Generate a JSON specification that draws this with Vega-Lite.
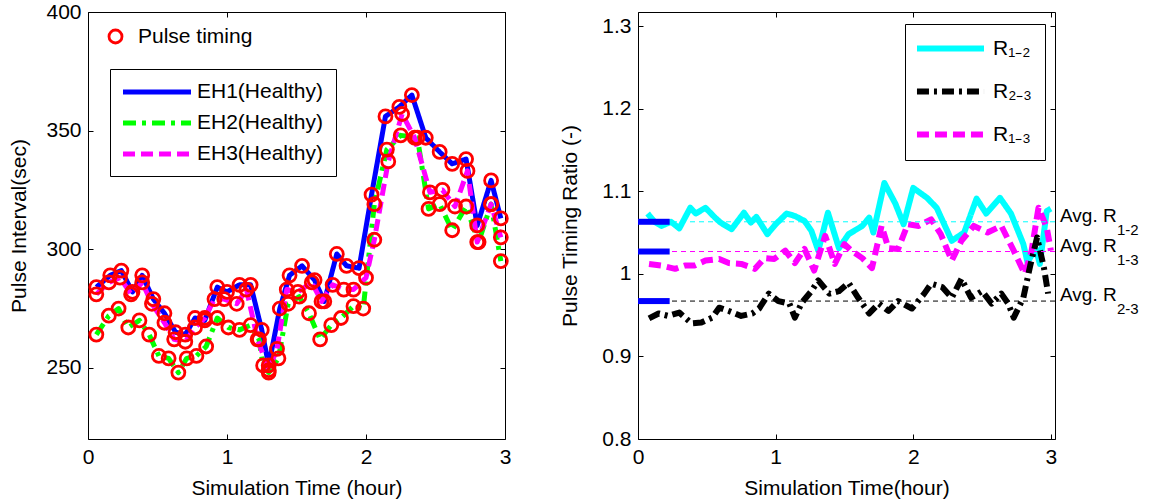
{
  "$schema": "https://vega.github.io/schema/vega-lite/v6.json",
  "background": "white",
  "padding": {"left": 8, "top": 0, "right": 2, "bottom": 0},
  "bounds": "flush",
  "spacing": 133,
  "resolve": {
    "scale": {"color": "independent", "strokeDash": "independent", "shape": "independent"},
    "legend": {"color": "independent", "strokeDash": "independent", "shape": "independent"}
  },
  "config": {
    "font": "Liberation Sans",
    "view": {"stroke": "black", "strokeWidth": 1},
    "axis": {"grid": false, "domain": false, "tickColor": "black", "tickSize": -5, "tickWidth": 1, "labelFontSize": 21, "titleFontSize": 21, "titleFontWeight": "normal", "labelColor": "black", "titleColor": "black", "labelPadding": 12, "labelFlush": false, "labelOverlap": false},
    "legend": {"labelFontSize": 21, "labelColor": "black", "labelFont": "Liberation Sans"}
  },
  "datasets": {
    "pulse": [
      {"s":"EH1(Healthy)","t":0.06,"v":284},{"s":"EH1(Healthy)","t":0.16,"v":289},{"s":"EH1(Healthy)","t":0.24,"v":291},{"s":"EH1(Healthy)","t":0.32,"v":282},{"s":"EH1(Healthy)","t":0.39,"v":289},{"s":"EH1(Healthy)","t":0.47,"v":279},{"s":"EH1(Healthy)","t":0.55,"v":273},{"s":"EH1(Healthy)","t":0.63,"v":265},{"s":"EH1(Healthy)","t":0.70,"v":264},{"s":"EH1(Healthy)","t":0.77,"v":271},{"s":"EH1(Healthy)","t":0.84,"v":270},{"s":"EH1(Healthy)","t":0.93,"v":284},{"s":"EH1(Healthy)","t":1.00,"v":282},{"s":"EH1(Healthy)","t":1.09,"v":285},{"s":"EH1(Healthy)","t":1.17,"v":285},{"s":"EH1(Healthy)","t":1.25,"v":266},{"s":"EH1(Healthy)","t":1.30,"v":251},{"s":"EH1(Healthy)","t":1.38,"v":275},{"s":"EH1(Healthy)","t":1.45,"v":289},{"s":"EH1(Healthy)","t":1.54,"v":293},{"s":"EH1(Healthy)","t":1.63,"v":287},{"s":"EH1(Healthy)","t":1.70,"v":278},{"s":"EH1(Healthy)","t":1.79,"v":298},{"s":"EH1(Healthy)","t":1.86,"v":293},{"s":"EH1(Healthy)","t":1.95,"v":292},{"s":"EH1(Healthy)","t":2.04,"v":323},{"s":"EH1(Healthy)","t":2.14,"v":356},{"s":"EH1(Healthy)","t":2.24,"v":360},{"s":"EH1(Healthy)","t":2.33,"v":365},{"s":"EH1(Healthy)","t":2.43,"v":347},{"s":"EH1(Healthy)","t":2.53,"v":341},{"s":"EH1(Healthy)","t":2.62,"v":336},{"s":"EH1(Healthy)","t":2.72,"v":338},{"s":"EH1(Healthy)","t":2.80,"v":310},{"s":"EH1(Healthy)","t":2.90,"v":329},{"s":"EH1(Healthy)","t":2.97,"v":313},
      {"s":"EH2(Healthy)","t":0.06,"v":264},{"s":"EH2(Healthy)","t":0.15,"v":272},{"s":"EH2(Healthy)","t":0.22,"v":275},{"s":"EH2(Healthy)","t":0.29,"v":267},{"s":"EH2(Healthy)","t":0.37,"v":270},{"s":"EH2(Healthy)","t":0.44,"v":264},{"s":"EH2(Healthy)","t":0.51,"v":255},{"s":"EH2(Healthy)","t":0.58,"v":254},{"s":"EH2(Healthy)","t":0.65,"v":248},{"s":"EH2(Healthy)","t":0.71,"v":254},{"s":"EH2(Healthy)","t":0.78,"v":255},{"s":"EH2(Healthy)","t":0.85,"v":259},{"s":"EH2(Healthy)","t":0.93,"v":271},{"s":"EH2(Healthy)","t":1.01,"v":267},{"s":"EH2(Healthy)","t":1.09,"v":266},{"s":"EH2(Healthy)","t":1.17,"v":268},{"s":"EH2(Healthy)","t":1.23,"v":262},{"s":"EH2(Healthy)","t":1.26,"v":251},{"s":"EH2(Healthy)","t":1.30,"v":248},{"s":"EH2(Healthy)","t":1.37,"v":254},{"s":"EH2(Healthy)","t":1.44,"v":277},{"s":"EH2(Healthy)","t":1.52,"v":280},{"s":"EH2(Healthy)","t":1.59,"v":273},{"s":"EH2(Healthy)","t":1.67,"v":262},{"s":"EH2(Healthy)","t":1.75,"v":268},{"s":"EH2(Healthy)","t":1.82,"v":271},{"s":"EH2(Healthy)","t":1.91,"v":276},{"s":"EH2(Healthy)","t":1.98,"v":275},{"s":"EH2(Healthy)","t":2.06,"v":319},{"s":"EH2(Healthy)","t":2.15,"v":342},{"s":"EH2(Healthy)","t":2.25,"v":348},{"s":"EH2(Healthy)","t":2.37,"v":347},{"s":"EH2(Healthy)","t":2.45,"v":317},{"s":"EH2(Healthy)","t":2.53,"v":319},{"s":"EH2(Healthy)","t":2.62,"v":308},{"s":"EH2(Healthy)","t":2.72,"v":318},{"s":"EH2(Healthy)","t":2.81,"v":303},{"s":"EH2(Healthy)","t":2.90,"v":319},{"s":"EH2(Healthy)","t":2.97,"v":295},
      {"s":"EH3(Healthy)","t":0.06,"v":281},{"s":"EH3(Healthy)","t":0.15,"v":286},{"s":"EH3(Healthy)","t":0.23,"v":288},{"s":"EH3(Healthy)","t":0.31,"v":281},{"s":"EH3(Healthy)","t":0.39,"v":286},{"s":"EH3(Healthy)","t":0.46,"v":277},{"s":"EH3(Healthy)","t":0.55,"v":269},{"s":"EH3(Healthy)","t":0.62,"v":262},{"s":"EH3(Healthy)","t":0.70,"v":261},{"s":"EH3(Healthy)","t":0.77,"v":267},{"s":"EH3(Healthy)","t":0.84,"v":271},{"s":"EH3(Healthy)","t":0.91,"v":279},{"s":"EH3(Healthy)","t":0.98,"v":279},{"s":"EH3(Healthy)","t":1.07,"v":277},{"s":"EH3(Healthy)","t":1.14,"v":283},{"s":"EH3(Healthy)","t":1.22,"v":262},{"s":"EH3(Healthy)","t":1.30,"v":249},{"s":"EH3(Healthy)","t":1.36,"v":258},{"s":"EH3(Healthy)","t":1.43,"v":283},{"s":"EH3(Healthy)","t":1.51,"v":282},{"s":"EH3(Healthy)","t":1.61,"v":286},{"s":"EH3(Healthy)","t":1.68,"v":278},{"s":"EH3(Healthy)","t":1.76,"v":285},{"s":"EH3(Healthy)","t":1.84,"v":283},{"s":"EH3(Healthy)","t":1.91,"v":283},{"s":"EH3(Healthy)","t":2.00,"v":288},{"s":"EH3(Healthy)","t":2.06,"v":304},{"s":"EH3(Healthy)","t":2.16,"v":337},{"s":"EH3(Healthy)","t":2.26,"v":357},{"s":"EH3(Healthy)","t":2.35,"v":347},{"s":"EH3(Healthy)","t":2.46,"v":324},{"s":"EH3(Healthy)","t":2.55,"v":325},{"s":"EH3(Healthy)","t":2.64,"v":318},{"s":"EH3(Healthy)","t":2.73,"v":333},{"s":"EH3(Healthy)","t":2.80,"v":303},{"s":"EH3(Healthy)","t":2.90,"v":319},{"s":"EH3(Healthy)","t":2.97,"v":305}
    ],
    "ratio": [
      {"s":"R1-2","t":0.07,"r":1.073},{"s":"R1-2","t":0.12,"r":1.063},{"s":"R1-2","t":0.17,"r":1.058},{"s":"R1-2","t":0.24,"r":1.063},{"s":"R1-2","t":0.30,"r":1.055},{"s":"R1-2","t":0.38,"r":1.080},{"s":"R1-2","t":0.42,"r":1.073},{"s":"R1-2","t":0.49,"r":1.080},{"s":"R1-2","t":0.56,"r":1.068},{"s":"R1-2","t":0.60,"r":1.062},{"s":"R1-2","t":0.68,"r":1.054},{"s":"R1-2","t":0.77,"r":1.074},{"s":"R1-2","t":0.82,"r":1.062},{"s":"R1-2","t":0.86,"r":1.069},{"s":"R1-2","t":0.94,"r":1.048},{"s":"R1-2","t":1.00,"r":1.060},{"s":"R1-2","t":1.08,"r":1.073},{"s":"R1-2","t":1.14,"r":1.070},{"s":"R1-2","t":1.21,"r":1.064},{"s":"R1-2","t":1.26,"r":1.052},{"s":"R1-2","t":1.31,"r":1.028},{"s":"R1-2","t":1.38,"r":1.074},{"s":"R1-2","t":1.46,"r":1.031},{"s":"R1-2","t":1.53,"r":1.048},{"s":"R1-2","t":1.63,"r":1.058},{"s":"R1-2","t":1.68,"r":1.068},{"s":"R1-2","t":1.71,"r":1.050},{"s":"R1-2","t":1.79,"r":1.110},{"s":"R1-2","t":1.87,"r":1.085},{"s":"R1-2","t":1.93,"r":1.060},{"s":"R1-2","t":2.00,"r":1.104},{"s":"R1-2","t":2.10,"r":1.092},{"s":"R1-2","t":2.17,"r":1.080},{"s":"R1-2","t":2.28,"r":1.040},{"s":"R1-2","t":2.37,"r":1.050},{"s":"R1-2","t":2.46,"r":1.091},{"s":"R1-2","t":2.53,"r":1.073},{"s":"R1-2","t":2.63,"r":1.092},{"s":"R1-2","t":2.71,"r":1.073},{"s":"R1-2","t":2.80,"r":1.036},{"s":"R1-2","t":2.83,"r":1.014},{"s":"R1-2","t":2.89,"r":1.031},{"s":"R1-2","t":2.92,"r":1.012},{"s":"R1-2","t":2.97,"r":1.076},{"s":"R1-2","t":3.00,"r":1.079},
      {"s":"R1-3","t":0.08,"r":1.012},{"s":"R1-3","t":0.17,"r":1.010},{"s":"R1-3","t":0.27,"r":1.006},{"s":"R1-3","t":0.34,"r":1.010},{"s":"R1-3","t":0.41,"r":1.010},{"s":"R1-3","t":0.49,"r":1.016},{"s":"R1-3","t":0.59,"r":1.018},{"s":"R1-3","t":0.66,"r":1.013},{"s":"R1-3","t":0.75,"r":1.012},{"s":"R1-3","t":0.85,"r":1.006},{"s":"R1-3","t":0.92,"r":1.019},{"s":"R1-3","t":0.99,"r":1.018},{"s":"R1-3","t":1.07,"r":1.028},{"s":"R1-3","t":1.14,"r":1.013},{"s":"R1-3","t":1.21,"r":1.030},{"s":"R1-3","t":1.28,"r":1.004},{"s":"R1-3","t":1.36,"r":1.046},{"s":"R1-3","t":1.43,"r":1.012},{"s":"R1-3","t":1.50,"r":1.036},{"s":"R1-3","t":1.55,"r":1.028},{"s":"R1-3","t":1.63,"r":1.019},{"s":"R1-3","t":1.70,"r":1.007},{"s":"R1-3","t":1.77,"r":1.058},{"s":"R1-3","t":1.82,"r":1.031},{"s":"R1-3","t":1.89,"r":1.030},{"s":"R1-3","t":1.96,"r":1.060},{"s":"R1-3","t":2.04,"r":1.058},{"s":"R1-3","t":2.13,"r":1.066},{"s":"R1-3","t":2.20,"r":1.048},{"s":"R1-3","t":2.28,"r":1.016},{"s":"R1-3","t":2.35,"r":1.040},{"s":"R1-3","t":2.44,"r":1.058},{"s":"R1-3","t":2.54,"r":1.050},{"s":"R1-3","t":2.64,"r":1.058},{"s":"R1-3","t":2.73,"r":1.028},{"s":"R1-3","t":2.81,"r":1.000},{"s":"R1-3","t":2.86,"r":1.028},{"s":"R1-3","t":2.91,"r":1.080},{"s":"R1-3","t":2.97,"r":1.056},{"s":"R1-3","t":3.00,"r":1.028},
      {"s":"R2-3","t":0.08,"r":0.946},{"s":"R2-3","t":0.15,"r":0.952},{"s":"R2-3","t":0.22,"r":0.949},{"s":"R2-3","t":0.30,"r":0.953},{"s":"R2-3","t":0.39,"r":0.940},{"s":"R2-3","t":0.46,"r":0.941},{"s":"R2-3","t":0.54,"r":0.947},{"s":"R2-3","t":0.59,"r":0.959},{"s":"R2-3","t":0.66,"r":0.955},{"s":"R2-3","t":0.75,"r":0.949},{"s":"R2-3","t":0.83,"r":0.952},{"s":"R2-3","t":0.88,"r":0.958},{"s":"R2-3","t":0.95,"r":0.976},{"s":"R2-3","t":1.02,"r":0.967},{"s":"R2-3","t":1.10,"r":0.964},{"s":"R2-3","t":1.14,"r":0.947},{"s":"R2-3","t":1.19,"r":0.965},{"s":"R2-3","t":1.26,"r":0.979},{"s":"R2-3","t":1.31,"r":0.992},{"s":"R2-3","t":1.39,"r":0.976},{"s":"R2-3","t":1.46,"r":0.979},{"s":"R2-3","t":1.53,"r":0.989},{"s":"R2-3","t":1.60,"r":0.971},{"s":"R2-3","t":1.68,"r":0.952},{"s":"R2-3","t":1.75,"r":0.964},{"s":"R2-3","t":1.82,"r":0.955},{"s":"R2-3","t":1.89,"r":0.967},{"s":"R2-3","t":1.99,"r":0.958},{"s":"R2-3","t":2.08,"r":0.976},{"s":"R2-3","t":2.13,"r":0.988},{"s":"R2-3","t":2.21,"r":0.984},{"s":"R2-3","t":2.28,"r":0.971},{"s":"R2-3","t":2.35,"r":0.994},{"s":"R2-3","t":2.42,"r":0.971},{"s":"R2-3","t":2.50,"r":0.979},{"s":"R2-3","t":2.57,"r":0.964},{"s":"R2-3","t":2.64,"r":0.976},{"s":"R2-3","t":2.69,"r":0.964},{"s":"R2-3","t":2.73,"r":0.947},{"s":"R2-3","t":2.80,"r":0.971},{"s":"R2-3","t":2.85,"r":1.010},{"s":"R2-3","t":2.90,"r":1.044},{"s":"R2-3","t":2.95,"r":1.007},{"s":"R2-3","t":2.98,"r":0.976}
    ],
    "avg": [
      {"s":"R1-2","avg":1.063,"sub":"1-2"},
      {"s":"R1-3","avg":1.027,"sub":"1-3"},
      {"s":"R2-3","avg":0.967,"sub":"2-3"}
    ]
  },
  "hconcat": [
    {
      "width": 417,
      "height": 427,
      "data": {"name": "pulse"},
      "layer": [
        {
          "mark": {"type": "line", "strokeWidth": 5, "strokeCap": "butt", "strokeJoin": "round"},
          "encoding": {
            "x": {"field": "t", "type": "quantitative", "scale": {"domain": [0, 3], "nice": false, "zero": false}, "axis": {"values": [0, 1, 2, 3], "format": "d", "title": "Simulation Time (hour)", "titlePadding": 10}},
            "y": {"field": "v", "type": "quantitative", "scale": {"domain": [220, 400], "nice": false, "zero": false}, "axis": {"values": [250, 300, 350, 400], "title": "Pulse Interval(sec)", "titlePadding": 16}},
            "color": {"field": "s", "type": "nominal", "scale": {"domain": ["EH1(Healthy)", "EH2(Healthy)", "EH3(Healthy)"], "range": ["#0000ff", "#00ff00", "#ff00ff"]},
              "legend": {"title": null, "orient": "none", "legendX": 22, "legendY": 57, "strokeColor": "black", "fillColor": "white", "padding": 12, "rowPadding": 10, "symbolType": "M-4,0H4", "symbolSize": 289, "symbolStrokeWidth": 5, "symbolOffset": 24, "labelOffset": 29}},
            "strokeDash": {"field": "s", "type": "nominal", "scale": {"domain": ["EH1(Healthy)", "EH2(Healthy)", "EH3(Healthy)"], "range": [[1, 0], [13, 6, 4, 6], [12, 6]]}},
            "order": {"field": "t", "type": "quantitative"}
          }
        },
        {
          "mark": {"type": "point", "filled": false, "color": "#ff0000", "strokeWidth": 2.8, "size": 169, "opacity": 1},
          "encoding": {
            "x": {"field": "t", "type": "quantitative", "axis": {"orient": "top", "labels": false, "title": null, "values": [0, 1, 2, 3]}},
            "y": {"field": "v", "type": "quantitative", "axis": {"orient": "right", "labels": false, "title": null, "values": [250, 300, 350, 400]}},
            "shape": {"datum": "Pulse timing", "legend": {"title": null, "orient": "none", "legendX": 17, "legendY": 14, "padding": 0, "symbolStrokeColor": "#ff0000", "symbolFillColor": "transparent", "symbolStrokeWidth": 2.8, "symbolSize": 169, "labelOffset": 12}}
          }
        }
      ],
      "resolve": {"axis": {"x": "independent", "y": "independent"}}
    },
    {
      "width": 417,
      "height": 427,
      "layer": [
        {
          "data": {"name": "ratio"},
          "mark": {"type": "line", "strokeWidth": 6, "strokeCap": "butt", "strokeJoin": "round"},
          "encoding": {
            "x": {"field": "t", "type": "quantitative", "scale": {"domain": [0, 3.03], "nice": false, "zero": false}, "axis": {"values": [0, 1, 2, 3], "format": "d", "title": "Simulation Time(hour)", "titlePadding": 10}},
            "y": {"field": "r", "type": "quantitative", "scale": {"domain": [0.8, 1.317], "nice": false, "zero": false}, "axis": {"values": [0.8, 0.9, 1, 1.1, 1.2, 1.3], "format": "~g", "title": "Pulse Timing Ratio (-)", "titlePadding": 21}},
            "color": {"field": "s", "type": "nominal", "scale": {"domain": ["R1-2", "R2-3", "R1-3"], "range": ["#00ffff", "#000000", "#ff00ff"]},
              "legend": {"title": null, "orient": "none", "legendX": 267, "legendY": 12, "strokeColor": "black", "fillColor": "white", "padding": 13, "rowPadding": 18, "symbolType": "M-4,0H4", "symbolSize": 281, "symbolStrokeWidth": 6, "symbolOffset": 21, "labelOffset": 31,
                "labelExpr": "datum.label == 'R1-2' ? 'R₁₋₂' : datum.label == 'R2-3' ? 'R₂₋₃' : 'R₁₋₃'"}},
            "strokeDash": {"field": "s", "type": "nominal", "scale": {"domain": ["R1-2", "R2-3", "R1-3"], "range": [[1, 0], [12, 5, 3, 5], [12, 6]]}},
            "order": {"field": "t", "type": "quantitative"}
          }
        },
        {
          "data": {"name": "avg"},
          "transform": [{"filter": "datum.s == 'R1-2'"}],
          "mark": {"type": "rule", "color": "#00ffff", "strokeWidth": 1, "strokeDash": [5, 4]},
          "encoding": {"y": {"field": "avg", "type": "quantitative", "axis": null}}
        },
        {
          "data": {"name": "avg"},
          "transform": [{"filter": "datum.s == 'R1-3'"}],
          "mark": {"type": "rule", "color": "#ff00ff", "strokeWidth": 1, "strokeDash": [5, 4]},
          "encoding": {"y": {"field": "avg", "type": "quantitative", "axis": null}}
        },
        {
          "data": {"name": "avg"},
          "transform": [{"filter": "datum.s == 'R2-3'"}],
          "mark": {"type": "rule", "color": "#000000", "strokeWidth": 1, "strokeDash": [5, 4]},
          "encoding": {"y": {"field": "avg", "type": "quantitative", "axis": null}}
        },
        {
          "data": {"name": "avg"},
          "mark": {"type": "rule", "color": "#0000ff", "strokeWidth": 6, "strokeCap": "butt"},
          "encoding": {
            "x": {"datum": 0, "type": "quantitative", "axis": {"orient": "top", "labels": false, "title": null, "values": [0, 1, 2, 3]}},
            "x2": {"datum": 0.23},
            "y": {"field": "avg", "type": "quantitative", "axis": {"orient": "right", "labels": false, "title": null, "values": [0.8, 0.9, 1, 1.1, 1.2, 1.3]}}
          }
        },
        {
          "data": {"name": "avg"},
          "mark": {"type": "text", "text": "Avg. R", "align": "left", "baseline": "middle", "dx": 5, "dy": -6, "fontSize": 19, "color": "black"},
          "encoding": {
            "x": {"datum": 3.03, "type": "quantitative", "axis": null},
            "y": {"field": "avg", "type": "quantitative", "axis": null}
          }
        },
        {
          "data": {"name": "avg"},
          "mark": {"type": "text", "align": "left", "baseline": "middle", "dx": 62, "dy": 8, "fontSize": 15, "color": "black"},
          "encoding": {
            "x": {"datum": 3.03, "type": "quantitative", "axis": null},
            "y": {"field": "avg", "type": "quantitative", "axis": null},
            "text": {"field": "sub", "type": "nominal"}
          }
        }
      ],
      "resolve": {"axis": {"x": "independent", "y": "independent"}}
    }
  ]
}
